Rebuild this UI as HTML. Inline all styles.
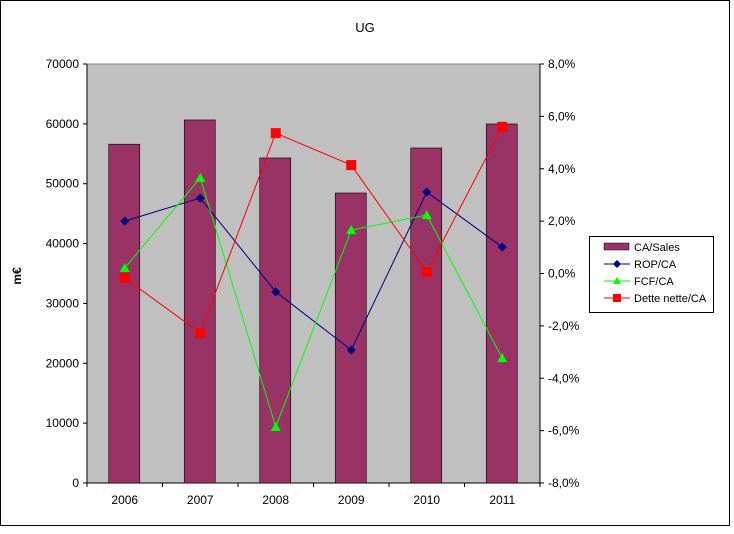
<!DOCTYPE html>
<html><head><meta charset="utf-8"><style>
body{margin:0;background:#fff;font-family:"Liberation Sans",Arial,sans-serif}
svg text{font-family:"Liberation Sans",Arial,sans-serif;font-size:12px;fill:#000}
</style></head><body>
<svg id="chart" width="734" height="529">
<rect x="0.5" y="0.5" width="729" height="525" fill="#fff" stroke="#000"/>
<text x="365" y="32" text-anchor="middle" style="font-size:13px">UG</text>
<text transform="translate(21,276) rotate(-90)" text-anchor="middle" style="font-weight:bold">m€</text>
<rect x="87" y="64" width="453" height="419" fill="#c0c0c0" stroke="#808080"/>
<g id="g"></g>
<g>
<rect x="589.5" y="236.5" width="124" height="76" fill="#fff" stroke="#000"/>
<rect x="604" y="243" width="25" height="7" fill="#993366" stroke="#000" stroke-width="0.5"/>
<text x="634" y="251" style="font-size:11px">CA/Sales</text>
<line x1="604" y1="264" x2="630" y2="264" stroke="#000080"/><path d="M617 260L621 264L617 268L613 264Z" fill="#000080"/>
<text x="634" y="268" style="font-size:11px">ROP/CA</text>
<line x1="604" y1="281" x2="630" y2="281" stroke="#00ff00"/><path d="M617 277L621 284L613 284Z" fill="#00ff00"/>
<text x="634" y="285" style="font-size:11px">FCF/CA</text>
<line x1="604" y1="298" x2="630" y2="298" stroke="#ff0000"/><rect x="613" y="294" width="8" height="8" fill="#ff0000"/>
<text x="634" y="302" style="font-size:11px">Dette nette/CA</text>
</g>
</svg>
<script>
const categories=["2006","2007","2008","2009","2010","2011"];
const sales=[56600,60650,54300,48450,55970,59980];
const rop=[2.0,2.88,-0.7,-2.92,3.11,1.01];
const fcf=[0.21,3.65,-5.86,1.66,2.23,-3.23];
const dette=[-0.17,-2.27,5.36,4.14,0.06,5.6];
const leftTicks=[0,10000,20000,30000,40000,50000,60000,70000];
const rightTicks=[-8,-6,-4,-2,0,2,4,6,8];
const L=87,R=540,T=64,B=483,NS="http://www.w3.org/2000/svg";
const xC=i=>L+(R-L)/categories.length*(i+0.5);
const yL=v=>B-(v-0)/70000*(B-T);
const yR=v=>B-(v+8)/16*(B-T);
const g=document.getElementById('g');
function mk(t,a){const e=document.createElementNS(NS,t);for(const k in a)e.setAttribute(k,a[k]);g.appendChild(e);return e;}
leftTicks.forEach(v=>{const y=yL(v);mk('line',{x1:L-4,x2:L,y1:y,y2:y,stroke:'#000'});
const t=mk('text',{x:L-8,y:y+4,'text-anchor':'end'});t.textContent=v;

});
rightTicks.forEach(v=>{const y=yR(v);mk('line',{x1:R,x2:R+4,y1:y,y2:y,stroke:'#000'});
const t=mk('text',{x:R+8,y:y+4});t.textContent=v.toFixed(1).replace('.',',')+'%';

});
mk('line',{x1:L,x2:L,y1:T,y2:B,stroke:'#000'});
mk('line',{x1:R,x2:R,y1:T,y2:B,stroke:'#000'});
mk('line',{x1:L,x2:R,y1:B,y2:B,stroke:'#000'});
categories.forEach((c,i)=>{const x=L+(R-L)/6*i;mk('line',{x1:x,x2:x,y1:B,y2:B+4,stroke:'#000'});
const t=mk('text',{x:xC(i),y:B+21,'text-anchor':'middle'});t.textContent=c;

});
mk('line',{x1:R,x2:R,y1:B,y2:B+4,stroke:'#000'});
sales.forEach((v,i)=>{const b=mk('rect',{x:xC(i)-16,y:yL(v),width:31,height:B-yL(v),fill:'#993366',stroke:'#000','stroke-width':0.6});

});
function series(arr,col,shape,name){
const p=mk('polyline',{points:arr.map((v,i)=>xC(i)+','+yR(v)).join(' '),fill:'none',stroke:col});


arr.forEach((v,i)=>{const x=xC(i),y=yR(v);let m;
if(shape==='d')m=mk('path',{d:`M${x} ${y-4.5}L${x+4.5} ${y}L${x} ${y+4.5}L${x-4.5} ${y}Z`,fill:col});
else if(shape==='t')m=mk('path',{d:`M${x} ${y-5}L${x+5} ${y+4}L${x-5} ${y+4}Z`,fill:col});
else m=mk('rect',{x:x-5,y:y-5,width:10,height:10,fill:col});

});}
series(rop,'#000080','d','rop-ca');
series(fcf,'#00ff00','t','fcf-ca');
series(dette,'#ff0000','s','dette-ca');
</script>
</body></html>
